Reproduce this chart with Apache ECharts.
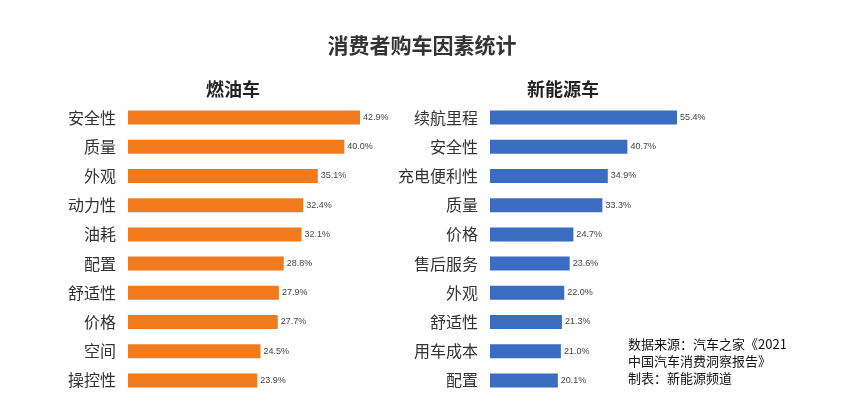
<!DOCTYPE html>
<html><head><meta charset="utf-8">
<script src="https://cdn.jsdelivr.net/npm/echarts@6/dist/echarts.min.js"></script>
<style>html,body{margin:0;padding:0;background:#fff}#c{width:844px;height:406px}</style>
</head><body><div id="c"></div>
<script>
const fuelCats = ['安全性','质量','外观','动力性','油耗','配置','舒适性','价格','空间','操控性'];
const fuelVals = [42.9,40.0,35.1,32.4,32.1,28.8,27.9,27.7,24.5,23.9];
const evCats = ['续航里程','安全性','充电便利性','质量','价格','售后服务','外观','舒适性','用车成本','配置'];
const evVals = [55.4,40.7,34.9,33.3,24.7,23.6,22.0,21.3,21.0,20.1];
const F = '"Noto Sans CJK SC", sans-serif';
const chart = echarts.init(document.getElementById('c'));
function yAx(cats, idx){return {type:'category',gridIndex:idx,data:cats,inverse:true,axisLine:{show:false},axisTick:{show:false},
  axisLabel:{fontSize:16,color:'#333',fontFamily:F,margin:12}};}
function xAx(max, idx){return {type:'value',gridIndex:idx,min:0,max:max,show:false};}
function ser(vals, idx, color){return {type:'bar',xAxisIndex:idx,yAxisIndex:idx,data:vals,barWidth:14,
  itemStyle:{color:color},label:{show:true,position:'right',fontSize:9,color:'#444',distance:3,formatter:p=>p.value.toFixed(1)+'%'}};}
chart.setOption({
  animation:false,
  title:[{text:'消费者购车因素统计',left:'center',top:30,textStyle:{fontSize:21,fontWeight:'bold',color:'#333',fontFamily:F}},
    {text:'燃油车',left:228,textAlign:'center',top:75,textStyle:{fontSize:18,fontWeight:'bold',color:'#222',fontFamily:F}},
    {text:'新能源车',left:558,textAlign:'center',top:75,textStyle:{fontSize:18,fontWeight:'bold',color:'#222',fontFamily:F}}],
  grid:[{left:128,top:103,width:232,height:292},{left:490,top:103,width:187,height:292}],
  xAxis:[xAx(42.9,0),xAx(55.4,1)],
  yAxis:[yAx(fuelCats,0),yAx(evCats,1)],
  series:[ser(fuelVals,0,'#F07A1C'),ser(evVals,1,'#3A6CC2')],
  graphic:[{type:'text',left:628,top:336,style:{text:'数据来源：汽车之家《2021\n中国汽车消费洞察报告》\n制表：新能源频道',fontSize:13,lineHeight:17,fill:'#111',fontFamily:F}}]
});
</script></body></html>
